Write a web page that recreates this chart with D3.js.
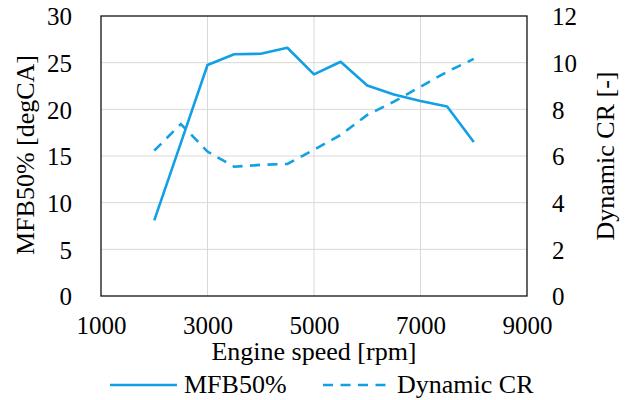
<!DOCTYPE html>
<html><head><meta charset="utf-8">
<script src="https://cdn.jsdelivr.net/npm/d3@7"></script>
<style>
html,body{margin:0;padding:0;background:#fff;}
text{font-family:"Liberation Serif","Times New Roman",serif;fill:#000;}
</style></head>
<body><svg id="chart" width="630" height="400"></svg>
<script>
const speeds = [2000, 2500, 3000, 3500, 4000, 4500, 5000, 5500, 6000, 6500, 7000, 7500, 8000];
const mfb50 = [8.1, 16.4, 24.75, 25.9, 25.95, 26.6, 23.75, 25.1, 22.55, 21.6, 20.9, 20.3, 16.5];
const dynCR = [6.23, 7.37, 6.19, 5.54, 5.62, 5.66, 6.27, 6.9, 7.76, 8.33, 8.97, 9.61, 10.16];
const xTicks = [1000, 3000, 5000, 7000, 9000];
const yLeftTicks = [0, 5, 10, 15, 20, 25, 30];
const yRightTicks = [0, 2, 4, 6, 8, 10, 12];
const seriesNames = ["MFB50%", "Dynamic CR"];
const xTitle = "Engine speed [rpm]";
const yLeftTitle = "MFB50% [degCA]";
const yRightTitle = "Dynamic CR [-]";

const color = "#12a0e4";
const svg = d3.select("#chart");
const L = 101, R = 527, T = 16, B = 296;
const x = d3.scaleLinear().domain([1000, 9000]).range([L, R]);
const yL = d3.scaleLinear().domain([0, 30]).range([B, T]);
const yR = d3.scaleLinear().domain([0, 12]).range([B, T]);
const fs = 25, fsT = 26;

// gridlines
svg.append("g").selectAll("line").data(yLeftTicks.slice(1, -1)).join("line")
  .attr("x1", L).attr("x2", R).attr("y1", d => yL(d)).attr("y2", d => yL(d))
  .attr("stroke", "#d9d9d9").attr("stroke-width", 1);
svg.append("g").selectAll("line").data(xTicks.slice(1, -1)).join("line")
  .attr("y1", T).attr("y2", B).attr("x1", d => x(d)).attr("x2", d => x(d))
  .attr("stroke", "#d9d9d9").attr("stroke-width", 1);

// axes (labels only)
const gx = svg.append("g").attr("transform", `translate(0,${B})`)
  .call(d3.axisBottom(x).tickValues(xTicks).tickSize(0).tickPadding(21).tickFormat(d3.format("d")));
const gl = svg.append("g").attr("transform", `translate(${L},0)`)
  .call(d3.axisLeft(yL).tickValues(yLeftTicks).tickSize(0).tickPadding(29).tickFormat(d3.format("d")));
const gr = svg.append("g").attr("transform", `translate(${R},0)`)
  .call(d3.axisRight(yR).tickValues(yRightTicks).tickSize(0).tickPadding(25).tickFormat(d3.format("d")));
[gx, gl, gr].forEach(g => {
  g.select(".domain").remove();
  g.attr("font-family", "Liberation Serif").attr("font-size", fs);
  g.selectAll("text").attr("font-size", fs).attr("font-family", "Liberation Serif").attr("fill", "#000");
});
gx.selectAll("text").attr("dy", null).attr("y", 38);
gl.selectAll("text").attr("dy", "0.35em");
gr.selectAll("text").attr("dy", "0.35em");

// plot border
svg.append("rect").attr("x", L).attr("y", T).attr("width", R - L).attr("height", B - T)
  .attr("fill", "none").attr("stroke", "#111").attr("stroke-width", 1.3);

// lines
const lineL = d3.line().x((d, i) => x(speeds[i])).y(d => yL(d));
const lineR = d3.line().x((d, i) => x(speeds[i])).y(d => yR(d));
svg.append("path").datum(mfb50).attr("d", lineL).attr("fill", "none")
  .attr("stroke", color).attr("stroke-width", 2.6).attr("stroke-linejoin", "round");
svg.append("path").datum(dynCR).attr("d", lineR).attr("fill", "none")
  .attr("stroke", color).attr("stroke-width", 2.6).attr("stroke-dasharray", "10,7.5");

// titles
svg.append("text").attr("x", (L + R) / 2).attr("y", 360).attr("text-anchor", "middle")
  .attr("font-size", fsT).text(xTitle);
svg.append("text").attr("transform", `translate(34,155) rotate(-90)`)
  .attr("text-anchor", "middle").attr("font-size", fsT).text(yLeftTitle);
svg.append("text").attr("transform", `translate(614,156) rotate(-90)`)
  .attr("text-anchor", "middle").attr("font-size", fsT).text(yRightTitle);

// legend
const ly = 385;
const leg = [
  {name: seriesNames[0], x1: 110, x2: 177, tx: 184, dash: null},
  {name: seriesNames[1], x1: 323, x2: 388, tx: 397, dash: "10,7.5"}
];
leg.forEach(l => {
  svg.append("line").attr("x1", l.x1).attr("x2", l.x2).attr("y1", ly).attr("y2", ly)
    .attr("stroke", color).attr("stroke-width", 2.6).attr("stroke-dasharray", l.dash);
  svg.append("text").attr("x", l.tx).attr("y", 393).attr("font-size", fsT).text(l.name);
});
</script></body></html>
